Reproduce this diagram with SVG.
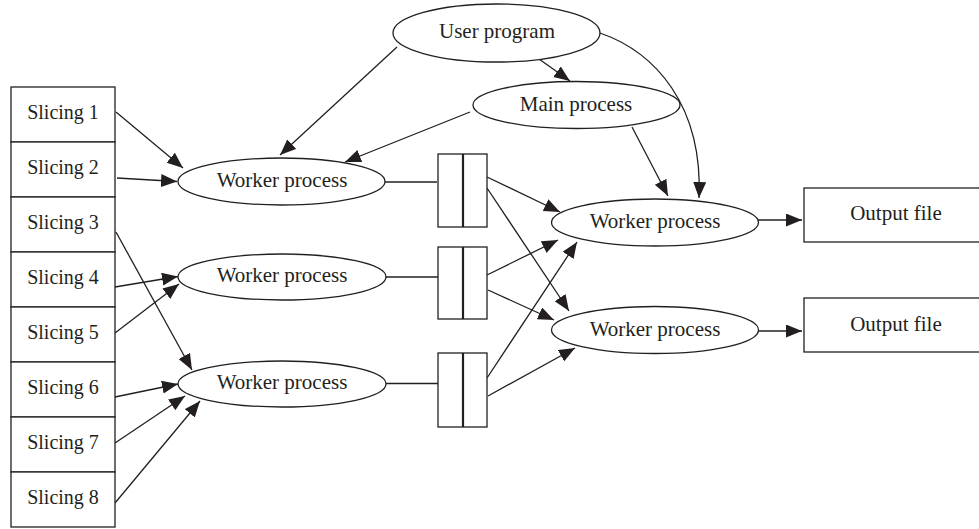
<svg xmlns="http://www.w3.org/2000/svg" width="979" height="529" viewBox="0 0 979 529">
  <defs>
    <marker id="arrow" markerUnits="userSpaceOnUse" markerWidth="17" markerHeight="14" refX="16" refY="6.5" orient="auto">
      <path d="M0,0 L16,6.5 L0,13 z" fill="#231f20"/>
    </marker>
    <style>
      .node { fill: #ffffff; stroke: #231f20; stroke-width: 1.3; }
      .div { stroke: #231f20; stroke-width: 2.2; }
      .lbl { font-family: "Liberation Serif", "Times New Roman", serif; font-size: 21px; fill: #231f20; text-anchor: middle; }
      .slc { font-size: 20px; }
      .edge { fill: none; stroke: #231f20; stroke-width: 1.3; }
      .arr { marker-end: url(#arrow); }
    </style>
  </defs>

  <rect x="0" y="0" width="979" height="529" fill="#ffffff"/>

  <!-- connectors -->
  <g id="connectors">
    <line class="edge arr" x1="116" y1="112" x2="183" y2="168"/>
    <line class="edge arr" x1="117" y1="178" x2="177" y2="181.5"/>
    <line class="edge arr" x1="116" y1="232" x2="192" y2="370"/>
    <line class="edge arr" x1="115" y1="287" x2="178" y2="276.5"/>
    <line class="edge arr" x1="115" y1="333" x2="179" y2="284"/>
    <line class="edge arr" x1="115" y1="397" x2="178" y2="384"/>
    <line class="edge arr" x1="115" y1="443" x2="185" y2="396"/>
    <line class="edge arr" x1="115" y1="503" x2="200" y2="401"/>

    <line class="edge arr" x1="397" y1="47" x2="280" y2="155"/>
    <line class="edge arr" x1="470" y1="112" x2="345" y2="162"/>
    <line class="edge arr" x1="539" y1="59" x2="570" y2="81"/>
    <path class="edge arr" d="M600,33 C655,52 703,105 699,198"/>
    <line class="edge arr" x1="632" y1="127" x2="668" y2="196"/>

    <line class="edge" x1="385" y1="182" x2="437" y2="182"/>
    <line class="edge" x1="386" y1="277" x2="438" y2="277"/>
    <line class="edge" x1="386" y1="383.5" x2="438" y2="383.5"/>

    <line class="edge arr" x1="487" y1="177" x2="560" y2="212"/>
    <line class="edge arr" x1="487" y1="188" x2="569" y2="311"/>
    <line class="edge arr" x1="487" y1="275" x2="558" y2="240"/>
    <line class="edge arr" x1="488" y1="290" x2="554" y2="320"/>
    <line class="edge arr" x1="487" y1="378" x2="577" y2="242"/>
    <line class="edge arr" x1="488" y1="396" x2="575" y2="348"/>

    <line class="edge arr" x1="758" y1="220" x2="802" y2="220"/>
    <line class="edge arr" x1="758" y1="331" x2="802" y2="331"/>
  </g>

  <!-- input slices -->
  <g id="slicing-1"><rect class="node" x="11" y="87" width="104" height="55"/><text class="lbl slc" x="63" y="119">Slicing 1</text></g>
  <g id="slicing-2"><rect class="node" x="11" y="142" width="104" height="55"/><text class="lbl slc" x="63" y="174">Slicing 2</text></g>
  <g id="slicing-3"><rect class="node" x="11" y="197" width="104" height="55"/><text class="lbl slc" x="63" y="229">Slicing 3</text></g>
  <g id="slicing-4"><rect class="node" x="11" y="252" width="104" height="55"/><text class="lbl slc" x="63" y="284">Slicing 4</text></g>
  <g id="slicing-5"><rect class="node" x="11" y="307" width="104" height="55"/><text class="lbl slc" x="63" y="339">Slicing 5</text></g>
  <g id="slicing-6"><rect class="node" x="11" y="362" width="104" height="55"/><text class="lbl slc" x="63" y="394">Slicing 6</text></g>
  <g id="slicing-7"><rect class="node" x="11" y="417" width="104" height="55"/><text class="lbl slc" x="63" y="449">Slicing 7</text></g>
  <g id="slicing-8"><rect class="node" x="11" y="472" width="104" height="55"/><text class="lbl slc" x="63" y="504">Slicing 8</text></g>

  <!-- control processes -->
  <g id="user-program"><ellipse class="node" cx="496.5" cy="33" rx="103.5" ry="29"/><text class="lbl" x="497" y="38">User program</text></g>
  <g id="main-process"><ellipse class="node" cx="576.5" cy="105" rx="103.5" ry="23.5"/><text class="lbl" x="576" y="110.5">Main process</text></g>

  <!-- map workers -->
  <g id="worker-1"><ellipse class="node" cx="281.5" cy="181.5" rx="103.5" ry="23.5"/><text class="lbl" x="282" y="187">Worker process</text></g>
  <g id="worker-2"><ellipse class="node" cx="282" cy="277" rx="104" ry="23"/><text class="lbl" x="282" y="282">Worker process</text></g>
  <g id="worker-3"><ellipse class="node" cx="282" cy="384" rx="104" ry="23"/><text class="lbl" x="282" y="389">Worker process</text></g>

  <!-- intermediate buffers -->
  <g id="buffer-1"><rect class="node" x="438" y="154" width="49" height="73"/><line class="div" x1="463" y1="154" x2="463" y2="227"/></g>
  <g id="buffer-2"><rect class="node" x="438" y="247" width="49" height="72"/><line class="div" x1="463" y1="247" x2="463" y2="319"/></g>
  <g id="buffer-3"><rect class="node" x="438" y="353" width="49" height="74"/><line class="div" x1="463" y1="353" x2="463" y2="427"/></g>

  <!-- reduce workers -->
  <g id="worker-4"><ellipse class="node" cx="655" cy="222.5" rx="103.5" ry="23.5"/><text class="lbl" x="655" y="228">Worker process</text></g>
  <g id="worker-5"><ellipse class="node" cx="655" cy="330" rx="103.5" ry="23.5"/><text class="lbl" x="655" y="335.5">Worker process</text></g>

  <!-- outputs -->
  <g id="output-1"><rect class="node" x="804" y="188" width="190" height="54"/><text class="lbl" x="896" y="220">Output file</text></g>
  <g id="output-2"><rect class="node" x="804" y="298" width="190" height="54"/><text class="lbl" x="896" y="331">Output file</text></g>
</svg>
